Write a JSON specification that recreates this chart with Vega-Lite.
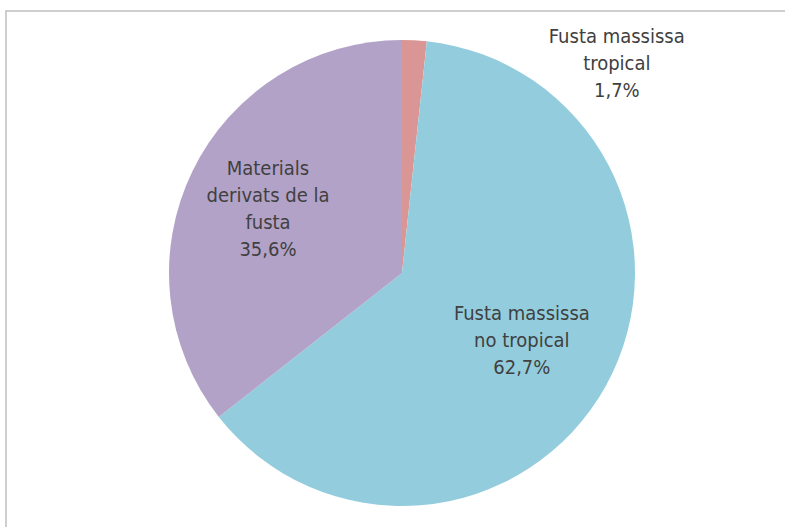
{
  "$schema": "https://vega.github.io/schema/vega-lite/v6.json",
  "width": 792,
  "height": 524,
  "autosize": "none",
  "padding": {"left": 6, "top": 11, "right": 0, "bottom": 0},
  "background": "white",
  "view": {"stroke": "#BFBFBF", "strokeWidth": 1.5},
  "config": {"view": {"stroke": "#BFBFBF", "strokeWidth": 1.5}},
  "data": {
    "values": [
      {"categoria": "Fusta massissa tropical", "valor": 1.7, "ordre": 1, "t1": ["Fusta massissa", "tropical", "1,7%"], "t2": "", "t3": ""},
      {"categoria": "Fusta massissa no tropical", "valor": 62.7, "ordre": 2, "t1": "", "t2": ["Fusta massissa", "no tropical", "62,7%"], "t3": ""},
      {"categoria": "Materials derivats de la fusta", "valor": 35.6, "ordre": 3, "t1": "", "t2": "", "t3": ["Materials", "derivats de la", "fusta", "35,6%"]}
    ]
  },
  "encoding": {
    "theta": {"field": "valor", "type": "quantitative", "stack": true},
    "order": {"field": "ordre", "type": "quantitative"},
    "color": {
      "field": "categoria",
      "type": "nominal",
      "scale": {
        "domain": ["Fusta massissa tropical", "Fusta massissa no tropical", "Materials derivats de la fusta"],
        "range": ["#D99694", "#93CDDD", "#B3A2C7"]
      },
      "legend": null
    }
  },
  "layer": [
    {"mark": {"type": "arc", "outerRadius": 233}},
    {
      "mark": {"type": "text", "radius": 240, "dx": 202, "dy": 4, "font": "DejaVu Sans Condensed", "fontSize": 20, "lineHeight": 27, "baseline": "middle"},
      "encoding": {"text": {"field": "t1"}, "color": {"value": "#404040"}}
    },
    {
      "mark": {"type": "text", "radius": 137, "dy": -25, "font": "DejaVu Sans Condensed", "fontSize": 20, "lineHeight": 27, "baseline": "middle"},
      "encoding": {"text": {"field": "t2"}, "color": {"value": "#404040"}}
    },
    {
      "mark": {"type": "text", "radius": 149, "dy": -39, "font": "DejaVu Sans Condensed", "fontSize": 20, "lineHeight": 27, "baseline": "middle"},
      "encoding": {"text": {"field": "t3"}, "color": {"value": "#404040"}}
    }
  ]
}
